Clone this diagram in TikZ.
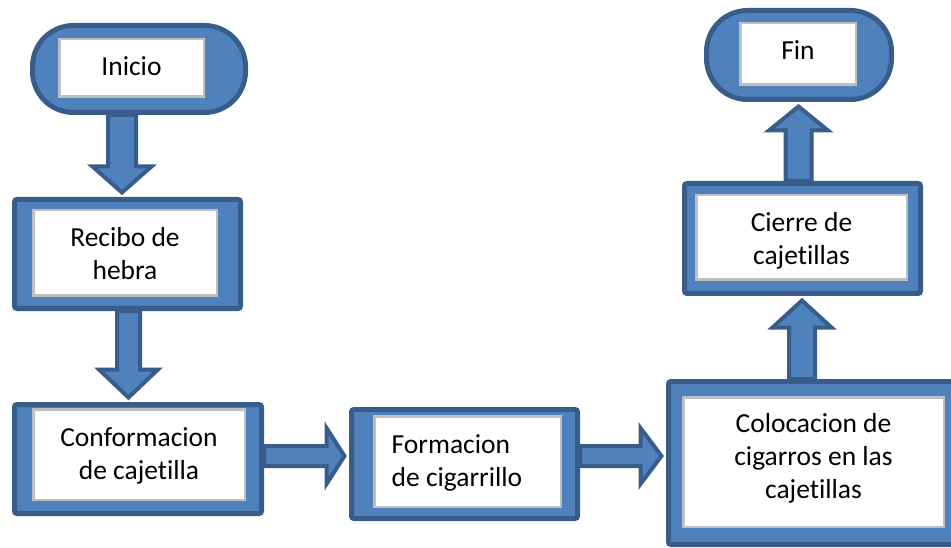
\documentclass[tikz,border=0pt]{standalone}
\usepackage{fontspec}
\setmainfont{Carlito}[Ligatures=NoCommon]
\usetikzlibrary{calc,backgrounds}
\definecolor{bblue}{HTML}{4F81BD}
\definecolor{bdark}{HTML}{385D8A}
\definecolor{ingray}{HTML}{BFBFBF}
% vertical block arrow going down: src, dst, dx, shaft half, head half, head length
\newcommand\vdownblock[6]{%
  \path[barrow] let \p1=(#1.south), \p2=(#2.north) in
    (\x1+#3-#4,\y1) -- (\x1+#3-#4,\y2+4.5pt+#6) -- (\x1+#3-#5,\y2+4.5pt+#6)
    -- (\x1+#3,\y2+4.5pt) -- (\x1+#3+#5,\y2+4.5pt+#6) -- (\x1+#3+#4,\y2+4.5pt+#6)
    -- (\x1+#3+#4,\y1) -- cycle;}
% vertical block arrow going up
\newcommand\vupblock[6]{%
  \path[barrow] let \p1=(#1.north), \p2=(#2.south) in
    (\x1+#3-#4,\y1) -- (\x1+#3-#4,\y2-4.5pt-#6) -- (\x1+#3-#5,\y2-4.5pt-#6)
    -- (\x1+#3,\y2-4.5pt) -- (\x1+#3+#5,\y2-4.5pt-#6) -- (\x1+#3+#4,\y2-4.5pt-#6)
    -- (\x1+#3+#4,\y1) -- cycle;}
% horizontal block arrow going right: src, dst, dy, shaft half, head half, head length
\newcommand\hrightblock[6]{%
  \path[barrow] let \p1=($(#1.east)+(0pt,#3)$), \p2=(#2.west) in
    (\x1,\y1-#4) -- (\x2-4.5pt-#6,\y1-#4) -- (\x2-4.5pt-#6,\y1-#5)
    -- (\x2-4.5pt,\y1) -- (\x2-4.5pt-#6,\y1+#5) -- (\x2-4.5pt-#6,\y1+#4)
    -- (\x1,\y1+#4) -- cycle;}
\begin{document}
\begin{tikzpicture}[x=1pt,y=-1pt,
  blk/.style={draw=bdark, fill=bblue, line width=5pt, rounded corners=2.5pt, inner sep=0pt},
  pill/.style={blk, rounded corners=41pt},
  inbox/.style={draw=ingray, fill=white, line width=2.5pt, inner sep=0pt},
  txt/.style={inner sep=0pt, align=center, font=\fontsize{27.5}{33}\selectfont},
  barrow/.style={draw=bdark, fill=bblue, line width=4pt, line join=miter}]
\useasboundingbox (0,0) rectangle (951,548);
% outer shapes
\node[pill, minimum width=213pt, minimum height=87pt] (ini) at (139,69) {};
\node[blk, minimum width=226pt, minimum height=109pt] (rec) at (127.5,254) {};
\node[blk, minimum width=247pt, minimum height=109pt] (con) at (138,459) {};
\node[blk, minimum width=226pt, minimum height=109pt] (for) at (464.5,464) {};
\node[blk, minimum width=290pt, minimum height=163pt] (col) at (813.5,463) {};
\node[blk, minimum width=236pt, minimum height=110pt] (cie) at (802.5,238.5) {};
\node[pill, minimum width=185pt, minimum height=89pt] (fin) at (799,55) {};
% inner text boxes
\node[inbox, minimum width=144.5pt, minimum height=57.5pt,
  label={[txt, yshift=2pt]center:Inicio}] (inii) at (131.5,68) {};
\node[inbox, minimum width=183.5pt, minimum height=85.5pt,
  label={[txt, yshift=-1pt]center:Recibo de\\hebra}] (reci) at (125,253) {};
\node[inbox, minimum width=211.5pt, minimum height=90.5pt,
  label={[txt, yshift=-1.5pt]center:Conformacion\\de cajetilla}] (coni) at (139,454.5) {};
\node[inbox, minimum width=186.5pt, minimum height=90.5pt,
  label={[txt, align=flush left, anchor=west, xshift=18.5pt, yshift=-1pt]west:Formacion\\de cigarrillo}] (fori) at (467.5,461.5) {};
\node[inbox, minimum width=260.5pt, minimum height=129.5pt,
  label={[txt, yshift=4pt]center:Colocacion de\\cigarros en las\\cajetillas}] (coli) at (813.5,462) {};
\node[inbox, minimum width=210.5pt, minimum height=84.5pt,
  label={[txt, yshift=-3pt]center:Cierre de\\cajetillas}] (ciei) at (801.5,237.5) {};
\node[inbox, minimum width=115.5pt, minimum height=61.5pt,
  label={[txt, yshift=3.5pt]center:Fin}] (fini) at (798,54) {};
% block arrows
\begin{scope}[on background layer]
\vdownblock{ini}{rec}{-17pt}{14pt}{29.5pt}{26pt}
\vdownblock{rec}{con}{1pt}{11.5pt}{29.5pt}{28pt}
\hrightblock{con}{for}{3pt}{10pt}{28pt}{18pt}
\hrightblock{for}{col}{8pt}{10pt}{28pt}{21pt}
\vupblock{col}{cie}{-11.5pt}{13pt}{29.5pt}{27pt}
\vupblock{cie}{fin}{-4pt}{13pt}{29.5pt}{24pt}
\end{scope}
\end{tikzpicture}
\end{document}
